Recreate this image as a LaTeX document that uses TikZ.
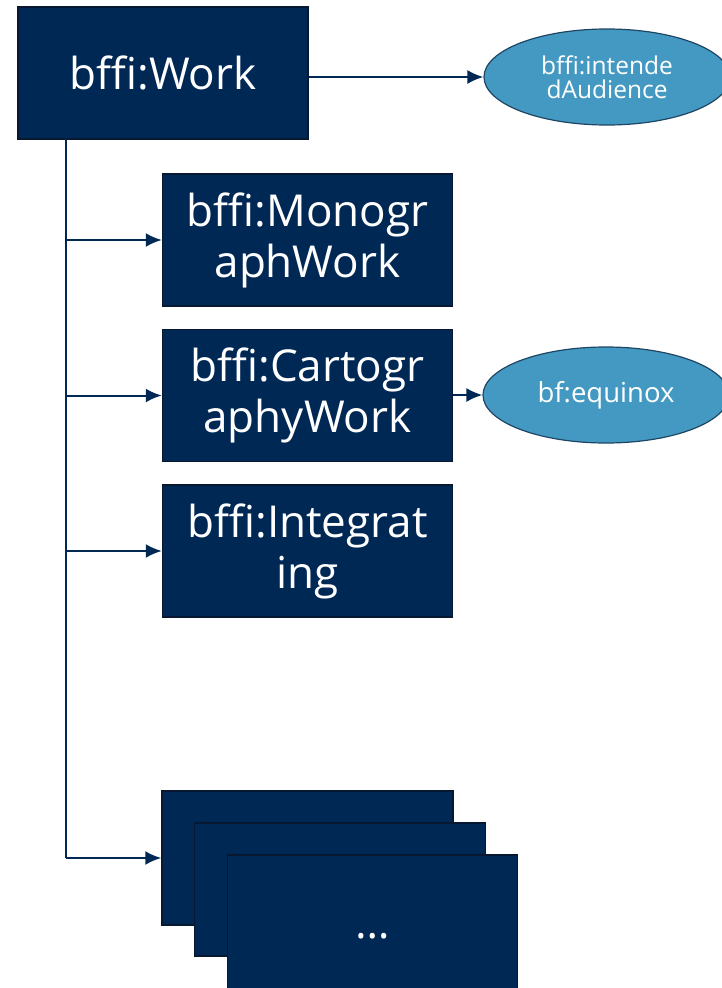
\documentclass[tikz,border=0pt]{standalone}
\usepackage{fontspec}
\setmainfont{Open Sans}
\usetikzlibrary{shapes.geometric, arrows.meta}
\definecolor{navy}{RGB}{0,40,85}
\definecolor{navyline}{RGB}{8,24,48}
\definecolor{sky}{RGB}{68,153,194}
\definecolor{skyline}{RGB}{30,70,100}

\begin{document}
\begin{tikzpicture}[x=1pt, y=-1pt,
    classbox/.style={draw=navyline, line width=1.5pt, fill=navy, text=white,
        minimum width=290pt, minimum height=132pt, inner sep=0pt,
        align=center, font=\fontsize{44}{51}\selectfont},
    propnode/.style={ellipse, draw=skyline, line width=1.2pt, fill=sky, text=white,
        minimum width=246pt, minimum height=96pt, inner sep=0pt,
        align=center, font=\fontsize{24.5}{24}\selectfont},
    link/.style={draw=navy, line width=2pt},
    linkto/.style={link, -{Latex[length=16pt, width=14pt]}}]
            \useasboundingbox (0,0) rectangle (722,988);
            \clip (0,0) rectangle (722,988);
            \node[classbox] (work) at (163,73) {bffi:Work};
            \node[propnode] (audience) at (607,77) {bffi:intende\\dAudience};
            \node[classbox] (mono) at (307.5,240) {bffi:Monogr\\aphWork};
            \node[classbox] (carto) at (307.5,395.5) {bffi:Cartogr\\aphyWork};
            \node[propnode, font=\fontsize{27.5}{27}\selectfont] (equinox) at (606,395) {bf:equinox};
            \node[classbox] (integ) at (307.5,551) {bffi:Integrat\\ing};
            \node[classbox, minimum width=291pt, minimum height=134pt] (more1) at (307.5,858) {};
            \node[classbox, minimum width=291pt, minimum height=133pt] (more2) at (340,889.5) {};
            \node[classbox, minimum width=290pt, minimum height=134pt] (more3) at (372.5,922) {\smash{\raisebox{-16pt}{\dots}}};
            \coordinate (trunktop) at (66,139);
            \coordinate (trunkend) at (66,858);
            \draw[link] (trunktop) -- (trunkend);
            \draw[linkto] (work.east |- audience.west) -- (audience.west);
            \draw[linkto] (trunktop |- mono.west) -- (mono.west);
            \draw[linkto] (trunktop |- carto.west) -- (carto.west);
            \draw[linkto] (carto.east |- equinox.west) -- (equinox.west);
            \draw[linkto] (trunktop |- integ.west) -- (integ.west);
            \draw[linkto] (trunkend) -- (more1.west);
        \end{tikzpicture}
\end{document}
